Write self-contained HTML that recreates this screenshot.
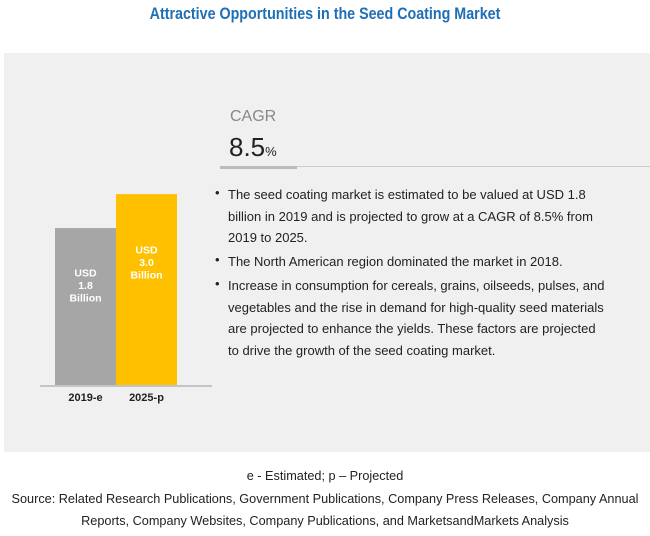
<!DOCTYPE html>
<html><head><meta charset="utf-8"><style>
body{margin:0;width:650px;height:536px;background:#fff;font-family:"Liberation Sans",sans-serif;position:relative;overflow:hidden}
.a{position:absolute}
.title{left:0;width:650px;top:4px;text-align:center;color:#1f6fb5;font-weight:bold;font-size:17px;transform:scaleX(0.84);}
.panel{left:4px;top:53px;width:646px;height:399px;background:#f0f0f0}
.bl{font-size:13px;color:#222;left:228px;line-height:21.5px;width:410px;white-space:nowrap}
.dot{left:215px;font-size:13px;color:#222}
.foot{left:0;width:650px;text-align:center;font-size:12.7px;color:#222;line-height:22px}
</style></head><body>
<div class="a title">Attractive Opportunities in the Seed Coating Market</div>
<div class="a panel"></div>
<svg class="a" style="left:0;top:0" width="650" height="536" id="chart"></svg>
<div class="a" style="left:230px;top:108px;font-size:16px;color:#888">CAGR</div>
<div class="a" style="left:229px;top:132px;font-size:26px;color:#222">8.5<span style="font-size:13px">%</span></div>
<div class="a" style="left:220px;top:166px;width:430px;height:1px;background:#ccc"></div>
<div class="a" style="left:220px;top:166px;width:77px;height:3px;background:#bbb"></div>
<div class="a dot" style="top:185px">•</div>
<div class="a bl" style="top:184px">The seed coating market is estimated to be valued at USD 1.8<br>billion in 2019 and is projected to grow at a CAGR of 8.5% from<br>2019 to 2025.</div>
<div class="a dot" style="top:252px">•</div>
<div class="a bl" style="top:251px">The North American region dominated the market in 2018.</div>
<div class="a dot" style="top:276px">•</div>
<div class="a bl" style="top:275px">Increase in consumption for cereals, grains, oilseeds, pulses, and<br>vegetables and the rise in demand for high-quality seed materials<br>are projected to enhance the yields. These factors are projected<br>to drive the growth of the seed coating market.</div>
<div class="a foot" style="top:465px">e - Estimated; p – Projected</div>
<div class="a foot" style="top:488px">Source: Related Research Publications, Government Publications, Company Press Releases, Company Annual<br>Reports, Company Websites, Company Publications, and MarketsandMarkets Analysis</div>
<script>
const categories=["2019-e","2025-p"];
const values=[1.8,3.0];
const valueLabels=["1.8","3.0"];
const colors=["#a6a6a6","#ffc000"];
const svg=document.getElementById('chart');
const NS="http://www.w3.org/2000/svg";
const base=385,x0=55,bw=61;
function yScale(v){return base-(106+28.3*v);}
function mk(t,a){const e=document.createElementNS(NS,t);for(const k in a)e.setAttribute(k,a[k]);svg.appendChild(e);return e;}
categories.forEach((c,i)=>{
 const x=x0+i*bw,y=yScale(values[i]),h=base-y;
 const r=mk('rect',{x:x,y:y,width:bw,height:h,fill:colors[i]});
 
 
 ["USD",valueLabels[i],"Billion"].forEach((s,j)=>{
  const t=mk('text',{x:x+bw/2,y:y+0.31*h+j*12.5,'text-anchor':'middle','font-size':'10.5','font-weight':'bold',fill:'#fff','font-family':'Liberation Sans, sans-serif'});
  t.textContent=s;
  
  
 });
 const l=mk('text',{x:x+bw/2,y:401,'text-anchor':'middle','font-size':'11','font-weight':'bold',fill:'#222','font-family':'Liberation Sans, sans-serif'});
 l.textContent=c;
 
 
});
const ax=mk('line',{x1:40,x2:212,y1:base+1,y2:base+1,stroke:'#999','stroke-width':1});


</script>
</body></html>
